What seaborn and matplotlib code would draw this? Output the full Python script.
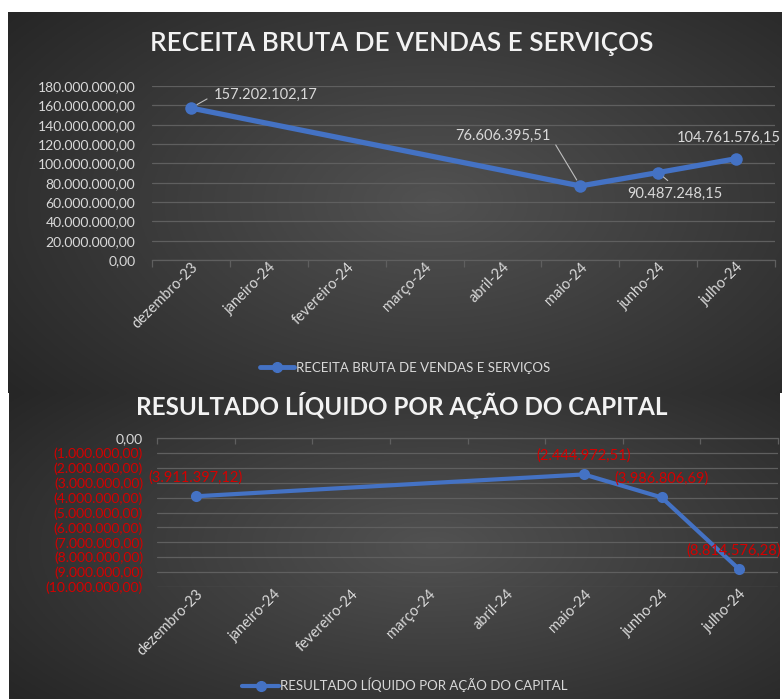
import numpy as np
import pandas as pd
import matplotlib.pyplot as plt
import seaborn as sns
from matplotlib.lines import Line2D
from matplotlib.transforms import ScaledTranslation

# --------------------------- DADOS ---------------------------

meses = ["dezembro-23", "janeiro-24", "fevereiro-24", "março-24",
         "abril-24", "maio-24", "junho-24", "julho-24"]
receita = [157202102.17, np.nan, np.nan, np.nan, np.nan,
           76606395.51, 90487248.15, 104761576.15]
resultado = [-3911397.12, np.nan, np.nan, np.nan, np.nan,
             -2444972.51, -3986806.69, -8814576.28]
ticks_receita = np.arange(0, 180e6 + 1, 20e6)
ticks_resultado = np.arange(-10e6, 1, 1e6)

titulo1 = "RECEITA BRUTA DE VENDAS E SERVIÇOS"
titulo2 = "RESULTADO LÍQUIDO POR AÇÃO DO CAPITAL"

# --------------------------- ESTILO ---------------------------

sns.set_theme(style="white")
plt.rcParams["font.family"] = ["Lato", "DejaVu Sans"]

W, H = 784, 699
AZUL = "#4472C4"
TEXTO = "#d9d9d9"
GRADE = "#5f5f5f"
VERMELHO = "#d40000"


def fmt_br(v):
    s = f"{abs(v):,.2f}".replace(",", "X").replace(".", ",").replace("X", ".")
    return f"({s})" if v < 0 else s


def painel(x0, y0, x1, y1):
    """Fundo escuro com gradiente radial (coords em pixels, origem no topo)."""
    ax = fig.add_axes([x0 / W, 1 - y1 / H, (x1 - x0) / W, (y1 - y0) / H], zorder=0)
    yy, xx = np.mgrid[0:1:200j, 0:1:300j]
    r = np.sqrt(((xx - 0.55) / 0.7) ** 2 + ((yy - 0.5) / 0.8) ** 2)
    c = np.clip(0.32 - 0.17 * r, 0.14, 1)
    ax.imshow(np.dstack([c, c, c]), aspect="auto", extent=[0, 1, 0, 1])
    ax.axis("off")


def eixo(x0, y_top, x1, y_bot):
    ax = fig.add_axes([x0 / W, 1 - y_bot / H, (x1 - x0) / W, (y_bot - y_top) / H], zorder=2)
    ax.set_facecolor("none")
    return ax


def rotular_x(ax):
    ax.set_xticks(range(len(meses)))
    ax.set_xticklabels(meses, rotation=45, ha="right", va="top",
                       rotation_mode="anchor", color=TEXTO, fontsize=10.5)
    desloc = ScaledTranslation(6 / 100, -11 / 100, fig.dpi_scale_trans)
    for lab in ax.get_xticklabels():
        lab.set_transform(lab.get_transform() + desloc)
    ax.set_xticks(np.arange(-0.5, len(meses), 1), minor=True)
    ax.tick_params(axis="x", which="major", length=0, pad=0)
    ax.set_xlim(-0.5, len(meses) - 0.5)
    ax.set_xlabel("")
    ax.set_ylabel("")


fig = plt.figure(figsize=(W / 100, H / 100), dpi=100)
fig.patch.set_facecolor("white")

painel(8, 12, 782, 393)
painel(9, 393, 780, 699)

# --------------------------- RECEITA BRUTA ---------------------------

df1 = pd.DataFrame({"pos": range(len(meses)), "mes": meses, "valor": receita}).dropna()

ax1 = eixo(152, 86, 775, 260)
sns.lineplot(data=df1, x="pos", y="valor", ax=ax1, color=AZUL, linewidth=3.8,
             marker="o", markersize=9, markeredgewidth=0, legend=False)
ax1.set_ylim(0, 180e6)
ax1.set_yticks(ticks_receita)
ax1.set_yticklabels([fmt_br(v) for v in ticks_receita], color=TEXTO, fontsize=10)
ax1.tick_params(axis="y", length=0, pad=12)
ax1.yaxis.grid(True, color=GRADE, linewidth=0.9)
for s in ["top", "left", "right"]:
    ax1.spines[s].set_visible(False)
ax1.spines["bottom"].set_color(GRADE)
ax1.spines["bottom"].set_linewidth(0.9)
rotular_x(ax1)
ax1.tick_params(axis="x", which="minor", bottom=True, length=5, width=0.9,
                color=GRADE, direction="out")

# rótulos com linhas de chamada
posicoes1 = {0: ((23, 13), "left", (0, 0.5)),
             5: ((-30, 50), "right", (1, 0.5)),
             6: ((-31, -21), "left", (0.5, 1)),
             7: ((45, 21), "right", None)}
for pos, ((dx, dy), ha, rel) in posicoes1.items():
    v = receita[pos]
    seta = None
    if rel is not None:
        seta = dict(arrowstyle="-", color="#bfbfbf", lw=0.8, relpos=rel,
                    shrinkA=3, shrinkB=5)
    ax1.annotate(fmt_br(v), xy=(pos, v), xytext=(dx, dy), textcoords="offset pixels",
                 ha=ha, va="center", color=TEXTO, fontsize=10.5,
                 arrowprops=seta, annotation_clip=False)

fig.text(402 / W, 1 - 44 / H, titulo1, ha="center", va="center",
         fontsize=18.8, color="#f2f2f2", fontweight="semibold")

fig.legend(handles=[Line2D([], [], color=AZUL, lw=3.5, marker="o", markersize=7)],
           labels=[titulo1], loc="center", bbox_to_anchor=(405 / W, 1 - 368 / H),
           frameon=False, fontsize=9.5, labelcolor=TEXTO, handlelength=2.6,
           handletextpad=0.1)

# --------------------------- RESULTADO LÍQUIDO ---------------------------

df2 = pd.DataFrame({"pos": range(len(meses)), "mes": meses, "valor": resultado}).dropna()

ax2 = eixo(157, 438, 778, 587)
sns.lineplot(data=df2, x="pos", y="valor", ax=ax2, color=AZUL, linewidth=3,
             marker="o", markersize=8, markeredgewidth=0, legend=False)
ax2.set_ylim(-10e6, 0)
ax2.set_yticks(ticks_resultado)
ax2.set_yticklabels([fmt_br(v) for v in ticks_resultado], fontsize=10)
for lab, v in zip(ax2.get_yticklabels(), ticks_resultado):
    lab.set_color(VERMELHO if v < 0 else TEXTO)
ax2.tick_params(axis="y", length=0, pad=10)
ax2.yaxis.grid(True, color=GRADE, linewidth=0.9)
for s in ["bottom", "left", "right"]:
    ax2.spines[s].set_visible(False)
ax2.spines["top"].set_color(GRADE)
ax2.spines["top"].set_linewidth(0.9)
rotular_x(ax2)
ax2.tick_params(axis="x", which="minor", bottom=False, top=True, length=4,
                width=0.9, color=GRADE, direction="in")

for pos, v in zip(df2["pos"], df2["valor"]):
    dx, ha = (42, "right") if pos == 7 else (0, "center")
    ax2.annotate(fmt_br(v), xy=(pos, v), xytext=(dx, 19), textcoords="offset pixels",
                 ha=ha, va="center", color=VERMELHO, fontsize=10.5,
                 annotation_clip=False)

fig.text(402 / W, 1 - 405 / H, titulo2, ha="center", va="center",
         fontsize=17.5, color="#f2f2f2", fontweight="bold")

fig.legend(handles=[Line2D([], [], color=AZUL, lw=3, marker="o", markersize=7)],
           labels=[titulo2], loc="center", bbox_to_anchor=(405 / W, 1 - 685 / H),
           frameon=False, fontsize=9.5, labelcolor=TEXTO, handlelength=2.8,
           handletextpad=0.1)

fig.savefig("out.png", dpi=100, facecolor=fig.get_facecolor())
